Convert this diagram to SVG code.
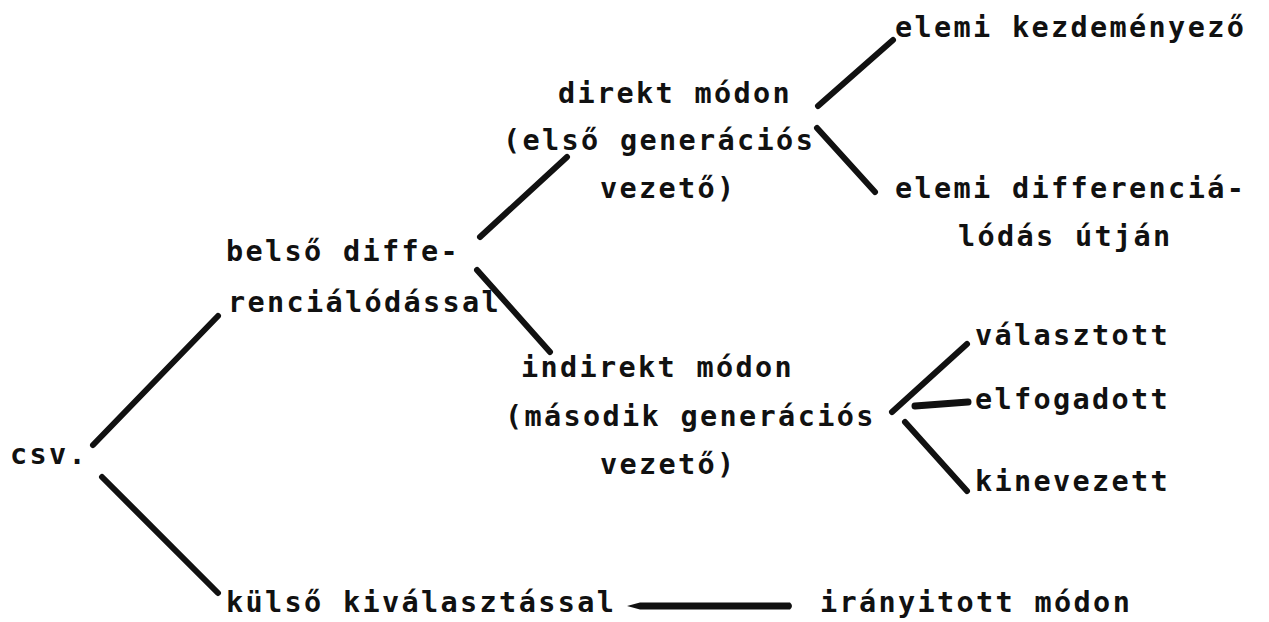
<svg xmlns="http://www.w3.org/2000/svg" width="1269" height="622" viewBox="0 0 1269 622">
<style>
.t{font-family:"DejaVu Sans Mono","Liberation Mono",monospace;font-weight:bold;font-size:28.5px;letter-spacing:2.35px;fill:#111}
.c{stroke:#111;stroke-width:6;stroke-linecap:round;fill:none}
</style>
<rect width="1269" height="622" fill="#fff"/>
<g id="connectors">
<line class="c" x1="93" y1="445" x2="218" y2="316"/>
<line class="c" x1="102" y1="477" x2="218" y2="593"/>
<line class="c" x1="480" y1="237" x2="567" y2="157"/>
<line class="c" x1="477" y1="270" x2="550" y2="352"/>
<line class="c" x1="818" y1="106" x2="893" y2="40"/>
<line class="c" x1="817" y1="128" x2="875" y2="192"/>
<line class="c" x1="892" y1="412" x2="967" y2="344"/>
<line class="c" x1="915" y1="406" x2="968" y2="402" style="stroke-width:7"/>
<line class="c" x1="905" y1="422" x2="967" y2="491"/>
<path d="M627 606 L640 602.5 L790 602.5 Q794 606 790 609.5 L640 609.5 Z" fill="#111"/>
</g>
<g id="csv"><text class="t" x="10" y="464">csv.</text></g>
<g id="belso"><text class="t" x="226" y="261">belső diffe-</text><text class="t" x="228" y="312">renciálódással</text></g>
<g id="kulso"><text class="t" x="226" y="612">külső kiválasztással</text></g>
<g id="iranyitott"><text class="t" x="820" y="612">irányitott módon</text></g>
<g id="direkt"><text class="t" x="558" y="103">direkt módon</text><text class="t" x="503" y="150">(első generációs</text><text class="t" x="600" y="198">vezető)</text></g>
<g id="indirekt"><text class="t" x="521" y="377">indirekt módon</text><text class="t" x="505" y="426">(második generációs</text><text class="t" x="600" y="474">vezető)</text></g>
<g id="kezdemenyezo"><text class="t" x="895" y="37">elemi kezdeményező</text></g>
<g id="differencialodas"><text class="t" x="895" y="198">elemi differenciá-</text><text class="t" x="958" y="246">lódás útján</text></g>
<g id="valasztott"><text class="t" x="975" y="345">választott</text></g>
<g id="elfogadott"><text class="t" x="975" y="409">elfogadott</text></g>
<g id="kinevezett"><text class="t" x="975" y="491">kinevezett</text></g>
</svg>
